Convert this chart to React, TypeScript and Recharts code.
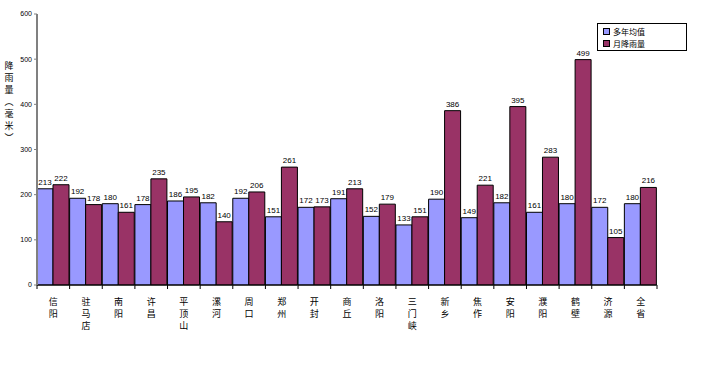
import { BarChart, Bar, XAxis, YAxis, LabelList } from "recharts";

const cities = [
  "信阳", "驻马店", "南阳", "许昌", "平顶山", "漯河", "周口", "郑州", "开封", "商丘",
  "洛阳", "三门峡", "新乡", "焦作", "安阳", "濮阳", "鹤壁", "济源", "全省",
];
const avgRain = [213, 192, 180, 178, 186, 182, 192, 151, 172, 191, 152, 133, 190, 149, 182, 161, 180, 172, 180];
const monthRain = [222, 178, 161, 235, 195, 140, 206, 261, 173, 213, 179, 151, 386, 221, 395, 283, 499, 105, 216];
const yTicks = [0, 100, 200, 300, 400, 500, 600];
const yTitle = ["降", "雨", "量", "︵", "毫", "米", "︶"];

const data = cities.map((c, i) => ({ city: c, avg: avgRain[i], month: monthRain[i] }));

const CJK = '"Noto Sans CJK SC", sans-serif';
const NUM = '"Liberation Sans", Arial, sans-serif';

// category label written top-to-bottom, plus the small ticks at category edges
function CityTick(props: any) {
  const { x, y, payload, index, width, visibleTicksCount } = props;
  const chars = String(payload.value).split("");
  const half = width / (visibleTicksCount || cities.length) / 2;
  const axisY = y - 8;
  return (
    <g>
      <line x1={x - half} x2={x - half} y1={axisY} y2={axisY + 4} stroke="#000" />
      {index === cities.length - 1 && (
        <line x1={x + half} x2={x + half} y1={axisY} y2={axisY + 4} stroke="#000" />
      )}
      {chars.map((ch, i) => (
        <text key={i} x={x} y={y + 12 + i * 12} textAnchor="middle" fontSize={9} fontFamily={CJK} fill="#000">
          {ch}
        </text>
      ))}
    </g>
  );
}

function YTitle() {
  return (
    <g>
      {yTitle.map((ch, i) => (
        <text key={i} x={9} y={69 + i * 12} textAnchor="middle" fontSize={9} fontFamily={CJK} fill="#000">
          {ch}
        </text>
      ))}
    </g>
  );
}

function LegendBox() {
  const item = (color: string, name: string) => (
    <div style={{ display: "flex", alignItems: "center", height: 12 }}>
      <span style={{ width: 5, height: 5, background: color, border: "1px solid #000", marginRight: 3 }} />
      {name}
    </div>
  );
  return (
    <div
      style={{
        position: "absolute", left: 597, top: 23, width: 90, height: 28,
        border: "1px solid #000", background: "#fff", fontFamily: CJK, fontSize: 8,
        padding: "1px 0 0 5px", boxSizing: "border-box",
      }}
    >
      {item("#9999FF", "多年均值")}
      {item("#993366", "月降雨量")}
    </div>
  );
}

export default function App() {
  return (
    <div style={{ position: "absolute", left: 0, top: 0, width: 703, height: 374, background: "#fff" }}>
      <BarChart
        width={703}
        height={374}
        data={data}
        margin={{ top: 14, right: 46, left: 7, bottom: 0 }}
        barCategoryGap={0}
        barGap={0}
      >
        <XAxis
          dataKey="city"
          interval={0}
          height={89}
          tick={<CityTick />}
          tickLine={false}
          axisLine={{ stroke: "#000" }}
        />
        <YAxis
          width={30}
          domain={[0, 600]}
          ticks={yTicks}
          tick={{ fontSize: 7, fontFamily: NUM, fill: "#000" }}
          tickSize={3}
          tickLine={{ stroke: "#808080" }}
          axisLine={{ stroke: "#808080", strokeWidth: 2 }}
          label={<YTitle />}
        />
        <Bar dataKey="avg" fill="#9999FF" stroke="#000" strokeWidth={1} isAnimationActive={false}>
          <LabelList dataKey="avg" position="top" offset={4} fontSize={8} fontFamily={NUM} fill="#000" />
        </Bar>
        <Bar dataKey="month" fill="#993366" stroke="#000" strokeWidth={1} isAnimationActive={false}>
          <LabelList dataKey="month" position="top" offset={4} fontSize={8} fontFamily={NUM} fill="#000" />
        </Bar>
      </BarChart>
      <LegendBox />
    </div>
  );
}
